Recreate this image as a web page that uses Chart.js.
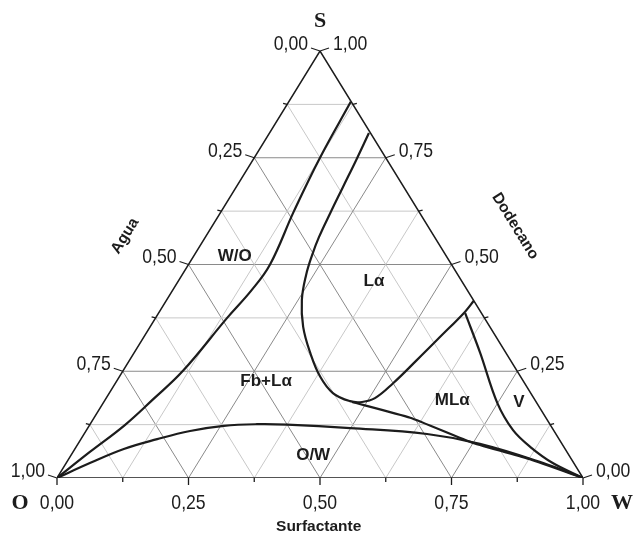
<!DOCTYPE html>
<html>
<head>
<meta charset="utf-8">
<script src="https://cdn.jsdelivr.net/npm/chart.js@4"></script>
<style>
  html, body { margin: 0; padding: 0; background: #fff; }
</style>
</head>
<body>
<canvas id="chart" width="633" height="541"></canvas>
<script>
// ternary points as [surfactante, S fraction]
const curveWO = [[0,0],[0.032,0.061],[0.067,0.124],[0.090,0.183],[0.114,0.251],[0.136,0.375],[0.150,0.440],[0.155,0.500],[0.138,0.625],[0.125,0.749],[0.118,0.881]];
// L-alpha boundary, through the bottom of the U and up to the right edge
const curveLa = [[0.189,0.808],[0.196,0.749],[0.203,0.681],[0.209,0.623],[0.216,0.564],[0.224,0.522],[0.236,0.475],[0.257,0.417],[0.291,0.354],[0.335,0.293],[0.382,0.237],[0.425,0.199],[0.467,0.180],[0.491,0.178],[0.511,0.187],[0.528,0.222],[0.546,0.276],[0.563,0.330],[0.581,0.389],[0.585,0.415]];
const curveV = [[0.583,0.386],[0.658,0.293],[0.749,0.176],[0.811,0.112],[0.863,0.073],[0.925,0.035],[1,0]];
const curveLow = [[0.472,0.178],[0.601,0.141],[0.750,0.082],[0.877,0.044],[1,0]];
const curveOW = [[0,0],[0.045,0.035],[0.093,0.068],[0.145,0.091],[0.198,0.110],[0.256,0.122],[0.317,0.126],[0.375,0.125],[0.499,0.117],[0.652,0.103],[0.764,0.080],[0.907,0.035],[1,0]];

const surfTicks = ["0,00","0,25","0,50","0,75","1,00"];
const aguaTicks = ["1,00","0,75","0,50","0,25","0,00"];
const dodecTicks = ["0,00","0,25","0,50","0,75","1,00"];

const regionNames = ["W/O","Lα","Fb+Lα","MLα","V","O/W"];
const regionAt = [[0.078,0.520],[0.372,0.461],[0.284,0.227],[0.660,0.183],[0.789,0.178],[0.461,0.052]];

const toXY = (p) => ({ x: p[0] + p[1] / 2, y: p[1] });

function line(points, color, width, order, tension){
  return {
    data: points.map(toXY),
    showLine: true,
    borderColor: color,
    borderWidth: width,
    pointRadius: 0,
    tension: tension || 0,
    order: order
  };
}

const datasets = [];
// phase boundaries
datasets.push(line(curveWO, "#1c1c1c", 2.2, 0, 0.4));
datasets.push(line(curveLa, "#1c1c1c", 2.2, 0, 0.4));
datasets.push(line(curveV, "#1c1c1c", 2.2, 0, 0.35));
datasets.push(line(curveLow, "#1c1c1c", 2.2, 0, 0.15));
datasets.push(line(curveOW, "#1c1c1c", 2.2, 0, 0.4));
// triangle
datasets.push(line([[0,0],[1,0],[0,1],[0,0]], "#1c1c1c", 1.5, 1));
// grid
for (let k = 1; k < 8; k++){
  const v = k / 8;
  const col = k % 2 === 0 ? "#8a8a8a" : "#c8c8c8";
  datasets.push(line([[0,v],[1 - v,v]], col, 1, 2));
  datasets.push(line([[v,0],[v,1 - v]], col, 1, 2));
  datasets.push(line([[v,0],[0,v]], col, 1, 2));
}

function narrow(ctx, txt, x, y, align){
  ctx.save();
  ctx.translate(x, y);
  ctx.scale(0.84, 1);
  ctx.textAlign = align;
  ctx.fillText(txt, 0, 0);
  ctx.restore();
}

const decor = {
  id: "decor",
  afterDatasetsDraw(chart){
    const ctx = chart.ctx;
    const xs = chart.scales.x, ys = chart.scales.y;
    const P = (w, s) => [xs.getPixelForValue(w + s / 2), ys.getPixelForValue(s)];

    ctx.save();
    ctx.strokeStyle = "#1c1c1c";
    ctx.lineWidth = 1.3;
    ctx.fillStyle = "#1c1c1c";
    ctx.textBaseline = "middle";
    ctx.font = '21px "Liberation Sans", Arial, sans-serif';

    for (let k = 0; k <= 8; k++){
      const v = k / 8;
      const major = k % 2 === 0;
      // bottom
      let [x, y] = P(v, 0);
      ctx.beginPath(); ctx.moveTo(x, y); ctx.lineTo(x, y + (major ? 7 : 4)); ctx.stroke();
      if (major) narrow(ctx, surfTicks[k / 2], x, y + 25, "center");
      // left
      [x, y] = P(0, v);
      ctx.beginPath(); ctx.moveTo(x, y);
      if (major) ctx.lineTo(x - 9, y - 3); else ctx.lineTo(x - 4, y - 1);
      ctx.stroke();
      if (major) narrow(ctx, aguaTicks[k / 2], x - 12, y - 7, "right");
      // right
      [x, y] = P(1 - v, v);
      ctx.beginPath(); ctx.moveTo(x, y);
      if (major) ctx.lineTo(x + 9, y - 3); else ctx.lineTo(x + 4, y - 1);
      ctx.stroke();
      if (major) narrow(ctx, dodecTicks[k / 2], x + 13, y - 7, "left");
    }

    // region labels
    ctx.font = 'bold 17px "Liberation Sans", Arial, sans-serif';
    ctx.textAlign = "center";
    regionNames.forEach((n, i) => {
      const [x, y] = P(regionAt[i][0], regionAt[i][1]);
      ctx.fillText(n, x, y);
    });

    // axis titles
    ctx.font = 'bold 15.5px "Liberation Sans", Arial, sans-serif';
    const ang = Math.atan2(ys.getPixelForValue(0) - ys.getPixelForValue(1), xs.getPixelForValue(0.5) - xs.getPixelForValue(0));
    let [ax, ay] = P(-0.154, 0.567);
    ctx.save(); ctx.translate(ax, ay); ctx.rotate(-ang); ctx.fillText("Agua", 0, 0); ctx.restore();
    [ax, ay] = P(0.576, 0.590);
    ctx.save(); ctx.translate(ax, ay); ctx.rotate(ang); ctx.fillText("Dodecano", 0, 0); ctx.restore();
    [ax, ay] = P(0.555, -0.115);
    ctx.fillText("Surfactante", ax, ay);

    // vertices
    ctx.font = 'bold 22px "Liberation Serif", "Times New Roman", serif';
    let [vx, vy] = P(0, 1);
    ctx.fillText("S", vx, vy - 30);
    [vx, vy] = P(0, 0);
    ctx.fillText("O", vx - 37, vy + 25);
    [vx, vy] = P(1, 0);
    ctx.fillText("W", vx + 39, vy + 25);
    ctx.restore();
  }
};

new Chart(document.getElementById("chart"), {
  type: "scatter",
  data: { datasets },
  options: {
    responsive: false,
    animation: false,
    events: [],
    layout: { padding: { left: 57, right: 50, top: 51, bottom: 63 } },
    plugins: { legend: { display: false }, tooltip: { enabled: false } },
    scales: {
      x: { type: "linear", min: 0, max: 1, display: false },
      y: { type: "linear", min: 0, max: 1, display: false }
    }
  },
  plugins: [decor]
});
</script>
</body>
</html>
